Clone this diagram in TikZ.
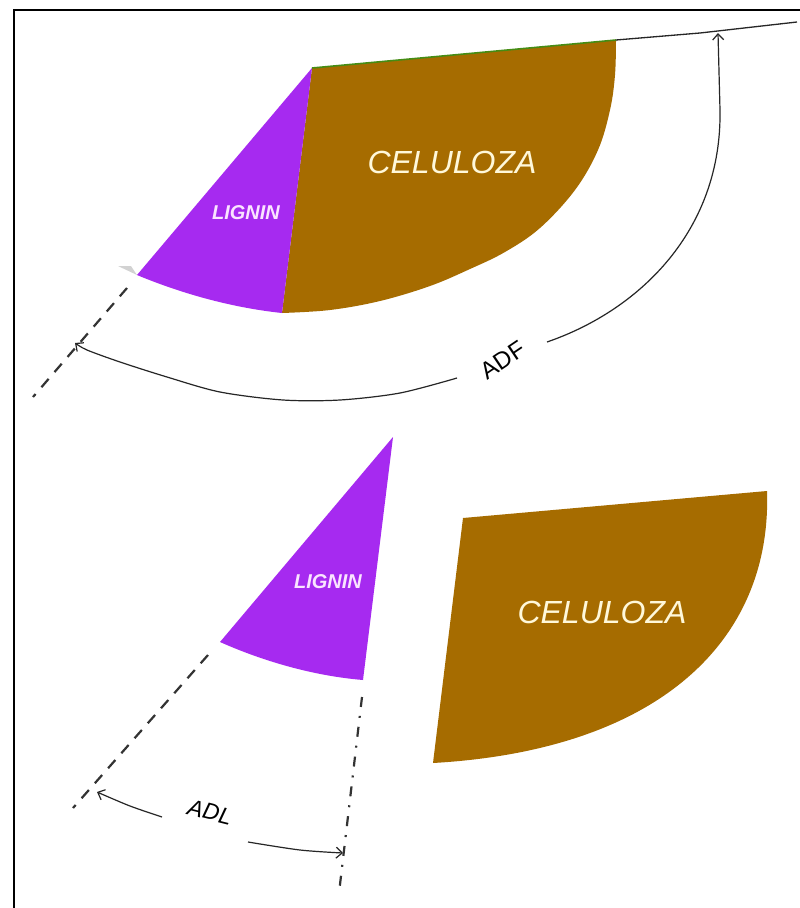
\documentclass[tikz,border=0pt]{standalone}
\usepackage{fontspec}
\setmainfont{Liberation Sans}
\usetikzlibrary{arrows.meta}
\definecolor{cel}{RGB}{166,108,0}
\definecolor{lig}{RGB}{166,42,240}
\definecolor{celtxt}{RGB}{255,248,218}
\definecolor{ligtxt}{RGB}{250,228,255}
\definecolor{topgreen}{RGB}{70,140,20}
\begin{document}
\begin{tikzpicture}[x=1pt,y=-1pt,
  guide/.style={line width=2.2pt, dash pattern=on 11pt off 9pt, black!80},
  dimarc/.style={line width=1.2pt, black!85, -{Straight Barb[length=6pt,width=11pt]}},
  celtext/.style={text=celtxt, font=\itshape\fontsize{32}{32}\selectfont, inner sep=0pt},
  ligtext/.style={text=ligtxt, font=\bfseries\itshape\fontsize{20}{20}\selectfont, inner sep=0pt},
  dimtext/.style={text=black, font=\fontsize{24}{24}\selectfont, inner sep=0pt}]
\useasboundingbox (0,0) rectangle (800,908);
\fill[white] (0,0) rectangle (800,908);
% frame
\draw[line width=2pt] (14,908) -- (14,10) -- (800,10);
% top figure
\fill[gray!35] (118,266) -- (131,266) -- (137,275) -- cycle;
\fill[cel] (312,68) -- (616,40) -- plot[smooth,tension=0.6] coordinates {(616,40) (615,75) (610,110) (598,150) (575,190) (540,228) (505,252) (470,269) (430,286) (380,301) (330,310) (282,313)} -- cycle;
\fill[lig] (312,68) -- (137,275) .. controls (185,295) and (235,308) .. (282,313) -- cycle;
\draw[topgreen, line width=1.6pt] (312,68) -- (616,40);
\draw[line width=1.3pt, black!85] (616,40) -- (700,33) -- (797,22);
\draw[guide] (127,288) -- (33,397);
\coordinate (adfA) at (718,33);
\coordinate (adfB) at (75,343);
\draw[dimarc] (547,342) .. controls (640,310) and (722,230) .. (720,110) -- (adfA);
\draw[dimarc] plot[smooth] coordinates {(457,378) (400,393) (340,400) (283,400) (220,392) (167,377) (120,362) (87,350) (adfB)};
\node[celtext] (cel1) at (452,162) {CELULOZA};
\node[ligtext] (lig1) at (246,213) {LIGNIN};
\node[dimtext, rotate=34] (adf) at (503,360) {ADF};
% bottom figure
\fill[cel] (463,518) -- (767,491) .. controls (772,640) and (660,750) .. (433,763) -- cycle;
\fill[lig] (393,437) -- (220,642) .. controls (265,662) and (315,676) .. (363,680) -- cycle;
\draw[guide] (208,655) -- (73,808);
\draw[guide, dash pattern=on 10pt off 9pt on 2pt off 9pt] (362,697) -- (339,893);
\coordinate (adlA) at (97,792);
\coordinate (adlB) at (343,853);
\draw[dimarc] plot[smooth] coordinates {(162,817) (130,806) (adlA)};
\draw[dimarc] plot[smooth] coordinates {(248,842) (300,850) (adlB)};
\node[celtext] (cel2) at (602,612) {CELULOZA};
\node[ligtext] (lig2) at (328,582) {LIGNIN};
\node[dimtext, font=\itshape\fontsize{23}{23}\selectfont, rotate=-14] (adl) at (210,812) {ADL};
\end{tikzpicture}
\end{document}
